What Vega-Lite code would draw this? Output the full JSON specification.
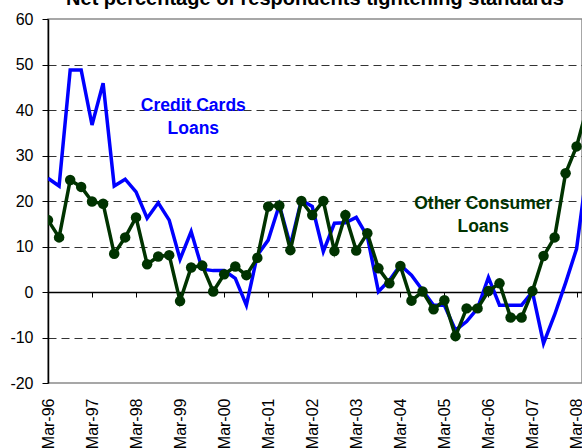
{
  "$schema": "https://vega.github.io/schema/vega-lite/v6.json",
  "autosize": {"type": "none"},
  "padding": {"left": 48, "top": 19, "right": 0, "bottom": 65},
  "width": 534,
  "height": 364,
  "background": "white",
  "view": {"stroke": "#8a8a8a", "strokeWidth": 1.5},
  "config": {
    "font": "Liberation Sans",
    "axisX": {"labelOverlap": false, "labelBound": false, "labelFlush": false}
  },
  "title": {
    "text": "Net percentage of respondents tightening standards",
    "fontSize": 20,
    "fontWeight": "bold",
    "font": "Liberation Sans",
    "color": "black",
    "anchor": "middle",
    "offset": 2
  },
  "datasets": {
    "main": [
      {"date": "1996-03-01", "cc": 25.0, "oc": 15.8},
      {"date": "1996-06-01", "cc": 23.3, "oc": 12.0},
      {"date": "1996-09-01", "cc": 48.8, "oc": 24.6},
      {"date": "1996-12-01", "cc": 48.8, "oc": 23.1},
      {"date": "1997-03-01", "cc": 36.7, "oc": 19.9},
      {"date": "1997-06-01", "cc": 45.9, "oc": 19.4},
      {"date": "1997-09-01", "cc": 23.3, "oc": 8.4},
      {"date": "1997-12-01", "cc": 24.8, "oc": 12.0},
      {"date": "1998-03-01", "cc": 22.0, "oc": 16.4},
      {"date": "1998-06-01", "cc": 16.2, "oc": 6.1},
      {"date": "1998-09-01", "cc": 19.6, "oc": 7.8},
      {"date": "1998-12-01", "cc": 15.8, "oc": 8.1},
      {"date": "1999-03-01", "cc": 7.2, "oc": -2.0},
      {"date": "1999-06-01", "cc": 13.3, "oc": 5.4},
      {"date": "1999-09-01", "cc": 5.0, "oc": 5.8},
      {"date": "1999-12-01", "cc": 4.7, "oc": 0.1},
      {"date": "2000-03-01", "cc": 4.7, "oc": 3.9},
      {"date": "2000-06-01", "cc": 3.0, "oc": 5.6},
      {"date": "2000-09-01", "cc": -2.9, "oc": 3.7},
      {"date": "2000-12-01", "cc": 8.1, "oc": 7.5},
      {"date": "2001-03-01", "cc": 11.4, "oc": 18.8},
      {"date": "2001-06-01", "cc": 19.1, "oc": 19.0},
      {"date": "2001-09-01", "cc": 10.3, "oc": 9.2},
      {"date": "2001-12-01", "cc": 20.2, "oc": 20.0},
      {"date": "2002-03-01", "cc": 18.8, "oc": 16.9},
      {"date": "2002-06-01", "cc": 8.9, "oc": 20.0},
      {"date": "2002-09-01", "cc": 15.1, "oc": 9.0},
      {"date": "2002-12-01", "cc": 15.2, "oc": 16.9},
      {"date": "2003-03-01", "cc": 16.4, "oc": 9.1},
      {"date": "2003-06-01", "cc": 12.2, "oc": 12.9},
      {"date": "2003-09-01", "cc": 0.1, "oc": 5.2},
      {"date": "2003-12-01", "cc": 2.6, "oc": 1.9},
      {"date": "2004-03-01", "cc": 5.9, "oc": 5.7},
      {"date": "2004-06-01", "cc": 3.7, "oc": -1.9},
      {"date": "2004-09-01", "cc": 0.4, "oc": 0.1},
      {"date": "2004-12-01", "cc": -2.9, "oc": -3.8},
      {"date": "2005-03-01", "cc": -2.9, "oc": -1.8},
      {"date": "2005-06-01", "cc": -8.4, "oc": -9.7},
      {"date": "2005-09-01", "cc": -6.5, "oc": -3.6},
      {"date": "2005-12-01", "cc": -3.6, "oc": -3.6},
      {"date": "2006-03-01", "cc": 3.2, "oc": 0.2},
      {"date": "2006-06-01", "cc": -2.9, "oc": 1.9},
      {"date": "2006-09-01", "cc": -2.9, "oc": -5.6},
      {"date": "2006-12-01", "cc": -2.9, "oc": -5.6},
      {"date": "2007-03-01", "cc": 0.0, "oc": 0.2},
      {"date": "2007-06-01", "cc": -11.3, "oc": 7.9},
      {"date": "2007-09-01", "cc": -5.0, "oc": 12.0},
      {"date": "2007-12-01", "cc": 2.0, "oc": 26.1},
      {"date": "2008-03-01", "cc": 9.5, "oc": 32.0},
      {"date": "2008-06-01", "cc": 28.0, "oc": 41.0}
    ],
    "notes": [
      {"series": "annotation"}
    ]
  },
  "layer": [
    {
      "data": {"name": "main"},
      "encoding": {
        "x": {
          "field": "date",
          "type": "temporal",
          "scale": {
            "type": "utc",
            "nice": false,
            "domain": [
              {"year": 1996, "month": 3, "date": 1, "utc": true},
              {"year": 2008, "month": 4, "date": 15, "utc": true}
            ]
          },
          "axis": {
            "title": null,
            "orient": "bottom",
            "offset": -91,
            "grid": false,
            "domain": true,
            "domainColor": "black",
            "domainWidth": 1.5,
            "ticks": true,
            "tickColor": "black",
            "tickSize": 5,
            "tickWidth": 1,
            "values": [
              {"year": 1996, "month": 3, "date": 1, "utc": true},
              {"year": 1996, "month": 9, "date": 1, "utc": true},
              {"year": 1997, "month": 3, "date": 1, "utc": true},
              {"year": 1997, "month": 9, "date": 1, "utc": true},
              {"year": 1998, "month": 3, "date": 1, "utc": true},
              {"year": 1998, "month": 9, "date": 1, "utc": true},
              {"year": 1999, "month": 3, "date": 1, "utc": true},
              {"year": 1999, "month": 9, "date": 1, "utc": true},
              {"year": 2000, "month": 3, "date": 1, "utc": true},
              {"year": 2000, "month": 9, "date": 1, "utc": true},
              {"year": 2001, "month": 3, "date": 1, "utc": true},
              {"year": 2001, "month": 9, "date": 1, "utc": true},
              {"year": 2002, "month": 3, "date": 1, "utc": true},
              {"year": 2002, "month": 9, "date": 1, "utc": true},
              {"year": 2003, "month": 3, "date": 1, "utc": true},
              {"year": 2003, "month": 9, "date": 1, "utc": true},
              {"year": 2004, "month": 3, "date": 1, "utc": true},
              {"year": 2004, "month": 9, "date": 1, "utc": true},
              {"year": 2005, "month": 3, "date": 1, "utc": true},
              {"year": 2005, "month": 9, "date": 1, "utc": true},
              {"year": 2006, "month": 3, "date": 1, "utc": true},
              {"year": 2006, "month": 9, "date": 1, "utc": true},
              {"year": 2007, "month": 3, "date": 1, "utc": true},
              {"year": 2007, "month": 9, "date": 1, "utc": true},
              {"year": 2008, "month": 3, "date": 1, "utc": true}
            ],
            "labelExpr": "utcFormat(datum.value, '%b-%y')",
            "labelAngle": -90,
            "labelAlign": "right",
            "labelBaseline": "middle",
            "labelPadding": 101,
            "labelFontSize": 16,
            "labelFont": "Liberation Sans",
            "labelColor": "black",
            "labelOverlap": false,
            "labelBound": false,
            "labelFlush": false
          }
        }
      },
      "layer": [
        {
          "mark": {"type": "line", "color": "#0000ff", "strokeWidth": 3.5, "clip": true},
          "encoding": {
            "y": {
              "field": "cc",
              "type": "quantitative",
              "scale": {"domain": [-20, 60], "nice": false, "zero": false},
              "axis": {
                "title": null,
                "values": [-20, -10, 0, 10, 20, 30, 40, 50, 60],
                "labelExpr": "toString(datum.value)",
                "domain": true,
                "domainColor": "black",
                "domainWidth": 1.5,
                "ticks": true,
                "tickColor": "black",
                "tickSize": 6,
                "tickWidth": 1,
                "labelPadding": 9,
                "labelFontSize": 16,
                "labelFont": "Liberation Sans",
                "labelColor": "black",
                "grid": true,
                "gridColor": "#333333",
                "gridWidth": 1,
                "gridDash": [8, 5],
                "gridOpacity": {
                  "condition": {"test": "datum.value === 0 || datum.value === 60 || datum.value === -20", "value": 0},
                  "value": 1
                }
              }
            }
          }
        },
        {
          "mark": {"type": "line", "color": "#003300", "strokeWidth": 3.5, "clip": true},
          "encoding": {
            "y": {"field": "oc", "type": "quantitative"}
          }
        },
        {
          "mark": {"type": "point", "shape": "circle", "filled": true, "color": "#003300", "opacity": 1, "size": 110, "clip": true},
          "encoding": {
            "y": {"field": "oc", "type": "quantitative"}
          }
        }
      ]
    },
    {
      "data": {"name": "notes"},
      "mark": {
        "type": "text",
        "text": ["Credit Cards", "Loans"],
        "color": "#0000ff",
        "font": "Liberation Sans",
        "fontSize": 17.5,
        "fontWeight": "bold",
        "align": "center",
        "baseline": "alphabetic",
        "lineHeight": 23
      },
      "encoding": {
        "x": {"datum": {"year": 1999, "month": 6, "date": 19, "utc": true}, "type": "temporal"},
        "y": {"datum": 39.8, "type": "quantitative"}
      }
    },
    {
      "data": {"name": "notes"},
      "mark": {
        "type": "text",
        "text": ["Other Consumer", "Loans"],
        "color": "#003300",
        "font": "Liberation Sans",
        "fontSize": 17.5,
        "fontWeight": "bold",
        "align": "center",
        "baseline": "alphabetic",
        "lineHeight": 23
      },
      "encoding": {
        "x": {"datum": {"year": 2006, "month": 1, "date": 17, "utc": true}, "type": "temporal"},
        "y": {"datum": 18.2, "type": "quantitative"}
      }
    }
  ]
}
